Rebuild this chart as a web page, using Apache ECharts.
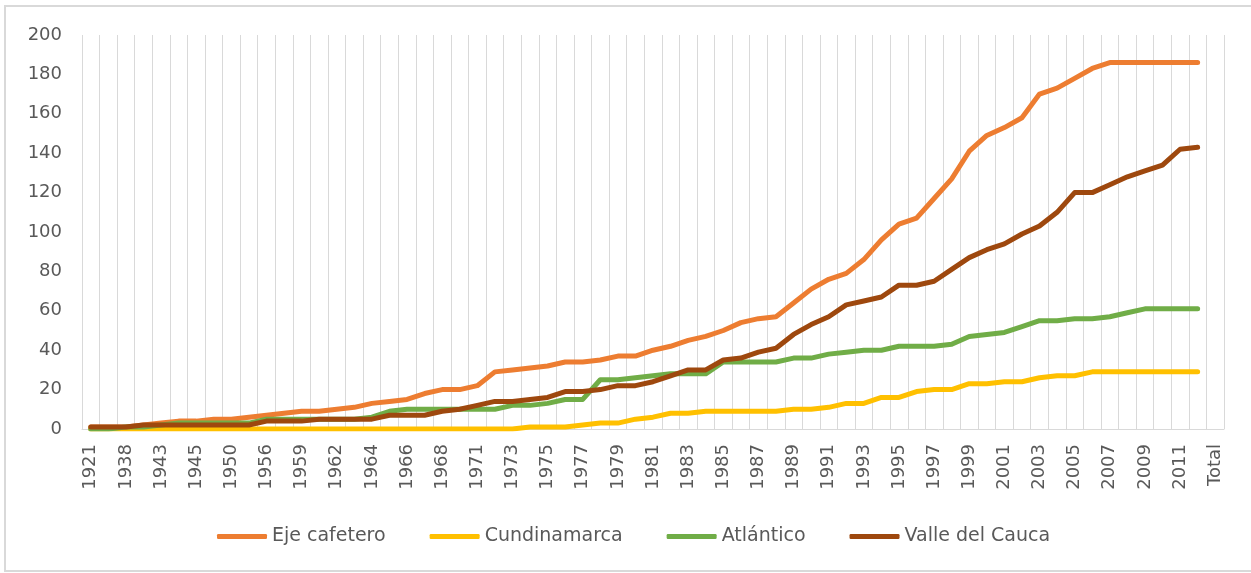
<!DOCTYPE html>
<html>
<head>
<meta charset="utf-8">
<script src="https://cdn.jsdelivr.net/npm/echarts@6/dist/echarts.min.js"></script>
<style>
html,body{margin:0;padding:0;background:#fff;}
#chart{width:1251px;height:573px;}
</style>
</head>
<body>
<div id="chart"></div>
<script>
const categories = ["1921","1936","1938","1940","1943","1944","1945","1948","1950","1953","1956","1958","1959","1960","1962","1963","1964","1965","1966","1967","1968","1970","1971","1972","1973","1974","1975","1976","1977","1978","1979","1980","1981","1982","1983","1984","1985","1986","1987","1988","1989","1990","1991","1992","1993","1994","1995","1996","1997","1998","1999","2000","2001","2002","2003","2004","2005","2006","2007","2008","2009","2010","2011","2012","Total"];

const ejeCafetero = [1,1,1,2,3,4,4,5,5,6,7,8,9,9,10,11,13,14,15,18,20,20,22,29,30,31,32,34,34,35,37,37,40,42,45,47,50,54,56,57,64,71,76,79,86,96,104,107,117,127,141,149,153,158,170,173,178,183,186,186,186,186,186,186,null];

const cundinamarca = [0,0,0,0,0,0,0,0,0,0,0,0,0,0,0,0,0,0,0,0,0,0,0,0,0,1,1,1,2,3,3,5,6,8,8,9,9,9,9,9,10,10,11,13,13,16,16,19,20,20,23,23,24,24,26,27,27,29,29,29,29,29,29,29,null];

const atlantico = [0,0,1,1,2,3,3,3,3,3,5,5,5,5,5,5,6,9,10,10,10,10,10,10,12,12,13,15,15,25,25,26,27,28,28,28,34,34,34,34,36,36,38,39,40,40,42,42,42,43,47,48,49,52,55,55,56,56,57,59,61,61,61,61,null];

const valleDelCauca = [1,1,1,2,2,2,2,2,2,2,4,4,4,5,5,5,5,7,7,7,9,10,12,14,14,15,16,19,19,20,22,22,24,27,30,30,35,36,39,41,48,53,57,63,65,67,73,73,75,81,87,91,94,99,103,110,120,120,124,128,131,134,142,143,null];

const yTicks = {min: 0, max: 200, interval: 20};

const seriesNames = ["Eje cafetero","Cundinamarca","Atlántico","Valle del Cauca"];
const seriesColors = ["#ED7D31","#FFC000","#70AD47","#9E480E"];
const seriesData = [ejeCafetero, cundinamarca, atlantico, valleDelCauca];

const FONT = "DejaVu Sans";
const chart = echarts.init(document.getElementById('chart'), null, {renderer: 'canvas'});

chart.setOption({
  animation: false,
  backgroundColor: '#ffffff',
  textStyle: {fontFamily: FONT},
  graphic: [{
    type: 'rect',
    shape: {x: 5, y: 6, width: 1260, height: 565},
    style: {fill: 'none', stroke: '#d9d9d9', lineWidth: 2},
    silent: true, z: -1
  }],
  grid: {left: 82, right: 27, top: 35, bottom: 144, containLabel: false},
  legend: {
    data: seriesNames,
    left: 212,
    top: 522,
    icon: 'roundRect',
    itemWidth: 50,
    itemHeight: 5,
    itemGap: 44,
    textStyle: {color: '#595959', fontSize: 19, fontFamily: FONT}
  },
  xAxis: {
    type: 'category',
    data: categories,
    boundaryGap: true,
    axisLine: {show: true, lineStyle: {color: '#d9d9d9', width: 1}},
    axisTick: {show: false},
    axisLabel: {interval: 1, rotate: 90, color: '#595959', fontSize: 18, margin: 15, fontFamily: FONT},
    splitLine: {show: true, interval: 0, lineStyle: {color: '#d9d9d9', width: 1}}
  },
  yAxis: {
    type: 'value',
    min: yTicks.min, max: yTicks.max, interval: yTicks.interval,
    axisLine: {show: false},
    axisTick: {show: false},
    splitLine: {show: false},
    axisLabel: {color: '#595959', fontSize: 18, margin: 20, fontFamily: FONT}
  },
  series: seriesNames.map((n, i) => ({
    name: n,
    type: 'line',
    data: seriesData[i],
    symbol: 'none',
    showSymbol: false,
    color: seriesColors[i],
    lineStyle: {color: seriesColors[i], width: 5, cap: 'round', join: 'round'},
    itemStyle: {color: seriesColors[i]},
    connectNulls: false
  }))
});
</script>
</body>
</html>
